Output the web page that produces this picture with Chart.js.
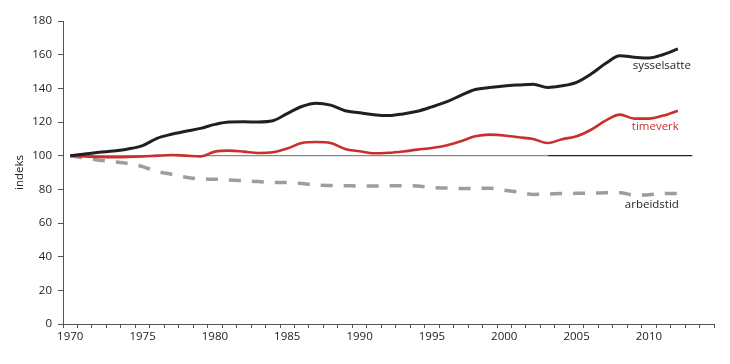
<!DOCTYPE html>
<html>
<head>
<meta charset="utf-8">
<script src="https://cdn.jsdelivr.net/npm/chart.js@4.4.1/dist/chart.umd.min.js"></script>
<style>
  html, body { margin: 0; padding: 0; background: #fff; }
  #wrap { width: 730px; height: 364px; }
</style>
</head>
<body>
<div id="wrap"><canvas id="chart" width="730" height="364"></canvas></div>
<script>
// år på x-aksen
const years = [];
for (let y = 1970; y <= 2014; y++) years.push(String(y));

// sysselsatte (indeks 1970 = 100)
const sysselsatte = [100, 101, 102, 102.8, 104, 106, 110.3, 112.7, 114.5, 116.2, 118.6, 120, 120.1, 120, 120.7,
    125, 129.2, 131.2, 130, 126.7, 125.5, 124.3, 123.8, 124.8, 126.4, 129, 131.9, 135.8, 139.3, 140.5,
    141.4, 142, 142.5, 140.5, 141.5, 143.6, 148.5, 154.7, 159.3, 158.5, 158, 160.1, 163.4];

// timeverk
const timeverk = [100, 99.6, 99.2, 99.1, 99.2, 99.5, 100, 100.4, 100, 99.6, 102.4, 103, 102.4, 101.6, 102,
    104.2, 107.5, 108.1, 107.5, 104, 102.6, 101.4, 101.7, 102.5, 103.6, 104.6, 106.1, 108.6, 111.5, 112.5,
    112, 110.9, 109.9, 107.5, 109.8, 111.5, 115.4, 120.8, 124.4, 122, 122, 123.8, 126.7];

// arbeidstid
const arbeidstid = [100, 98.6, 97.3, 96.4, 95.3, 93.5, 90.6, 89, 87.2, 86.2, 86, 85.6, 85.1, 84.6, 84.1,
    84, 83.5, 82.5, 82.3, 82.2, 82, 82, 82.2, 82.2, 82, 81, 80.8, 80.5, 80.6, 80.7,
    79.5, 78.4, 77, 77.2, 77.5, 77.6, 77.7, 77.9, 78, 76.6, 76.8, 77.5, 77.6];

// referanselinje ved 100
const refGraa = years.map(y => (+y <= 2003 ? 100 : null));
const refSvart = years.map(y => (+y >= 2003 && +y <= 2013 ? 100 : null));

const yTicks = [0, 20, 40, 60, 80, 100, 120, 140, 160, 180];

const FONT = '"Open Sans", "Noto Sans", sans-serif';

// tekst ved slutten av linjene
const endLabels = {
    id: 'endLabels',
    afterDatasetsDraw(chart) {
        const ctx = chart.ctx;
        const items = [
            { ds: 0, text: 'sysselsatte', color: '#231f20', dx: 13, dy: 17 },
            { ds: 1, text: 'timeverk', color: '#c9302c', dx: 1, dy: 16 },
            { ds: 2, text: 'arbeidstid', color: '#231f20', dx: 1, dy: 11 }
        ];
        ctx.save();
        ctx.font = '11.5px ' + FONT;
        ctx.textAlign = 'right';
        ctx.textBaseline = 'middle';
        items.forEach(it => {
            const pts = chart.getDatasetMeta(it.ds).data;
            const last = pts[pts.length - 1];
            ctx.fillStyle = it.color;
            ctx.fillText(it.text, last.x + it.dx, last.y + it.dy);
        });
        ctx.restore();
    }
};

new Chart(document.getElementById('chart'), {
    type: 'line',
    data: {
        labels: years,
        datasets: [
            {
                label: 'sysselsatte',
                data: sysselsatte,
                borderColor: '#231f20',
                borderWidth: 3,
                order: 1
            },
            {
                label: 'timeverk',
                data: timeverk,
                borderColor: '#c9302c',
                borderWidth: 2.6,
                order: 2
            },
            {
                label: 'arbeidstid',
                data: arbeidstid,
                borderColor: '#9d9d9d',
                borderWidth: 3.5,
                borderDash: [12, 11],
                order: 3
            },
            {
                label: 'ref1',
                data: refGraa,
                borderColor: '#8a8a8a',
                borderWidth: 1.3,
                tension: 0,
                order: 4
            },
            {
                label: 'ref2',
                data: refSvart,
                borderColor: '#222',
                borderWidth: 1.2,
                tension: 0,
                order: 4
            }
        ]
    },
    options: {
        responsive: false,
        animation: false,
        layout: { padding: { left: 8, right: 16, top: 21, bottom: 0 } },
        elements: {
            point: { radius: 0 },
            line: { tension: 0.4, cubicInterpolationMode: 'monotone', fill: false }
        },
        plugins: {
            legend: { display: false },
            tooltip: { enabled: false }
        },
        scales: {
            x: {
                type: 'category',
                offset: true,
                afterFit(scale) { scale.height = 40; },
                grid: {
                    offset: true,
                    drawOnChartArea: false,
                    tickLength: 4,
                    color: '#555'
                },
                border: { color: '#555', width: 1 },
                ticks: {
                    autoSkip: false,
                    maxRotation: 0,
                    padding: 2,
                    color: '#222',
                    font: { family: FONT, size: 11.5 },
                    callback(val, i) {
                        const y = +years[i];
                        return y % 5 === 0 && y <= 2010 ? String(y) : '';
                    }
                }
            },
            y: {
                min: 0,
                max: 180,
                afterFit(scale) { scale.width = 55; },
                afterBuildTicks(scale) { scale.ticks = yTicks.map(v => ({ value: v })); },
                grid: {
                    drawOnChartArea: false,
                    tickLength: 5,
                    color: '#555'
                },
                border: { color: '#555', width: 1 },
                ticks: {
                    padding: 6,
                    color: '#222',
                    font: { family: FONT, size: 11.5 }
                },
                title: {
                    display: true,
                    text: 'indeks',
                    color: '#222',
                    font: { family: FONT, size: 11.5 },
                    padding: { top: 5, bottom: 0 }
                }
            }
        }
    },
    plugins: [endLabels]
});
</script>
</body>
</html>
